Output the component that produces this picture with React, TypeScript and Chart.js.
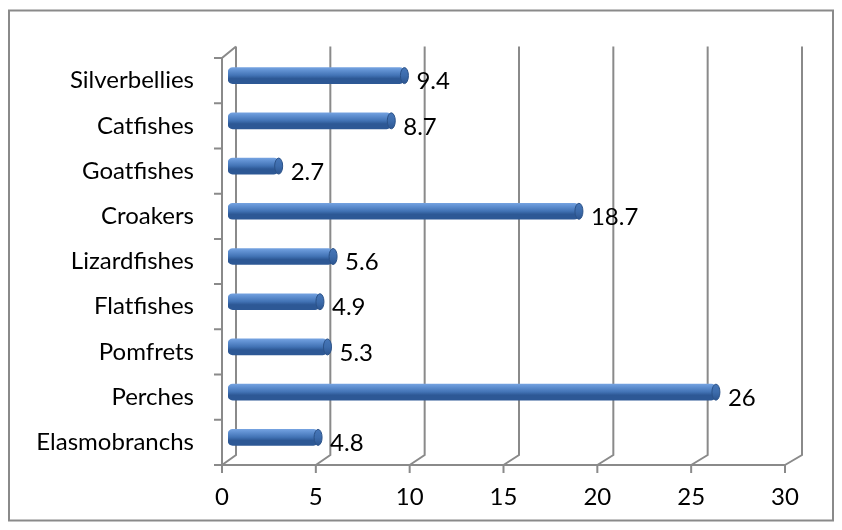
import React, { useEffect, useRef } from "react";
import { Chart, registerables } from "chart.js";

Chart.register(...registerables);

const categories = [
  "Silverbellies",
  "Catfishes",
  "Goatfishes",
  "Croakers",
  "Lizardfishes",
  "Flatfishes",
  "Pomfrets",
  "Perches",
  "Elasmobranchs",
];
const values = [9.4, 8.7, 2.7, 18.7, 5.6, 4.9, 5.3, 26, 4.8];
const valueLabels = ["9.4", "8.7", "2.7", "18.7", "5.6", "4.9", "5.3", "26", "4.8"];
const xTicks = [0, 5, 10, 15, 20, 25, 30];

const FONT = "Lato, 'Open Sans', sans-serif";
const FONT_SIZE = 24;
const LINE = "#8a8a8a";
const BAR_DX = 6;
const BAR_DY = -5;
const BAR_H = 16;

const framePlugin = {
  id: "frame3d",
  beforeDatasetsDraw(chart: any) {
    const { ctx, chartArea } = chart;
    const xs = chart.scales.x;
    const backTop = chartArea.top - 11.5;
    const backBottom = chartArea.bottom - 10;
    const floorY = chartArea.bottom;
    const bx = (v: number) => xs.getPixelForValue(v) + 14 + v * 0.1;
    ctx.save();
    ctx.strokeStyle = LINE;
    ctx.lineWidth = 2;
    ctx.strokeRect(1, 2.5, chart.width - 2, chart.height - 4);
    ctx.beginPath();
    for (const v of xTicks) {
      const fx = xs.getPixelForValue(v);
      const b = bx(v);
      ctx.moveTo(b, backTop);
      ctx.lineTo(b, backBottom);
      ctx.lineTo(fx, floorY);
      ctx.moveTo(fx, floorY);
      ctx.lineTo(fx, floorY + 8);
    }
    const f0 = xs.getPixelForValue(0);
    const f30 = xs.getPixelForValue(30);
    ctx.moveTo(f0, floorY);
    ctx.lineTo(f30, floorY);
    ctx.moveTo(f0, floorY);
    ctx.lineTo(f0, chartArea.top);
    ctx.lineTo(bx(0), backTop);
    const n = categories.length;
    const h = (chartArea.bottom - chartArea.top) / n;
    for (let i = 0; i <= n; i++) {
      const y = chartArea.top + i * h;
      ctx.moveTo(f0 - 8, y);
      ctx.lineTo(f0, y);
    }
    ctx.stroke();
    ctx.restore();
    ctx.save();
    ctx.translate(BAR_DX, BAR_DY);
  },
  afterDatasetsDraw(chart: any) {
    const { ctx } = chart;
    const meta = chart.getDatasetMeta(0);
    meta.data.forEach((bar: any) => {
      const hh = bar.height / 2;
      if (!Number.isFinite(bar.y) || !Number.isFinite(hh)) return;
      ctx.beginPath();
      ctx.ellipse(bar.x, bar.y, 4, hh, 0, 0, Math.PI * 2);
      const g = ctx.createLinearGradient(0, bar.y - hh, 0, bar.y + hh);
      g.addColorStop(0, "#4676b8");
      g.addColorStop(0.5, "#3d6cac");
      g.addColorStop(1, "#2c5590");
      ctx.fillStyle = g;
      ctx.fill();
      ctx.strokeStyle = "#2b5288";
      ctx.lineWidth = 1;
      ctx.stroke();
    });
    ctx.restore();
    ctx.save();
    ctx.fillStyle = "#000";
    ctx.font = `${FONT_SIZE}px ${FONT}`;
    ctx.textBaseline = "middle";
    ctx.textAlign = "left";
    const ys = chart.scales.y;
    meta.data.forEach((bar: any, i: number) => {
      ctx.fillText(valueLabels[i], bar.x + BAR_DX + 12, ys.getPixelForValue(i) + 1);
    });
    ctx.restore();
  },
};

export default function App() {
  const ref = useRef<HTMLCanvasElement>(null);
  useEffect(() => {
    if (!ref.current) return;
    const chart = new Chart(ref.current, {
      type: "bar",
      data: {
        labels: categories,
        datasets: [
          {
            data: values,
            barThickness: BAR_H,
            borderRadius: 5,
            borderSkipped: false,
            backgroundColor: (c: any) => {
              const ch = c.chart;
              const ys = ch.scales && ch.scales.y;
              if (!ys || c.dataIndex === undefined) return "#4f81bd";
              const y = ys.getPixelForValue(c.dataIndex) + BAR_DY;
              if (!Number.isFinite(y)) return "#4f81bd";
              const g = ch.ctx.createLinearGradient(0, y - BAR_H / 2, 0, y + BAR_H / 2);
              g.addColorStop(0, "#4677b9");
              g.addColorStop(0.22, "#7eaae6");
              g.addColorStop(0.45, "#6494d5");
              g.addColorStop(0.8, "#4273b5");
              g.addColorStop(1, "#2d5895");
              return g;
            },
          },
        ],
      },
      options: {
        indexAxis: "y",
        animation: false,
        responsive: false,
        events: [],
        layout: { padding: { top: 50, right: 49, bottom: 0, left: 0 } },
        plugins: { legend: { display: false }, tooltip: { enabled: false } },
        scales: {
          x: {
            min: 0,
            max: 30,
            afterFit: (s: any) => {
              s.height = 57;
            },
            afterBuildTicks: (s: any) => {
              s.ticks = xTicks.map((v) => ({ value: v }));
            },
            grid: { display: false, drawTicks: false },
            border: { display: false },
            ticks: {
              padding: 18,
              color: "#000",
              font: { family: FONT, size: FONT_SIZE },
              maxRotation: 0,
            },
          },
          y: {
            afterFit: (s: any) => {
              s.width = 214;
            },
            grid: { display: false, drawTicks: false },
            border: { display: false },
            ticks: {
              padding: 28,
              color: "#000",
              font: { family: FONT, size: FONT_SIZE },
            },
          },
        },
      },
      plugins: [framePlugin],
    });
    return () => chart.destroy();
  }, []);
  return (
    <div style={{ width: 826, height: 514 }}>
      <canvas ref={ref} width={826} height={514} style={{ display: "block" }} />
    </div>
  );
}
